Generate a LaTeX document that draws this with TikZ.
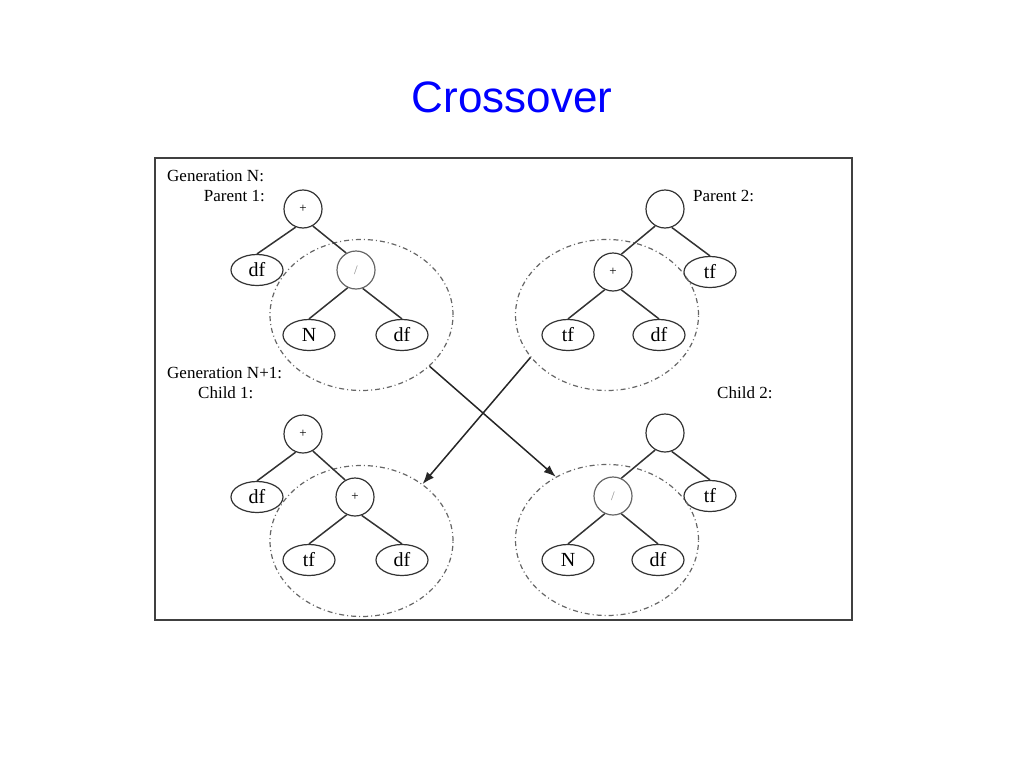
\documentclass[tikz,border=0pt]{standalone}
\usepackage{fontspec}
\setmainfont{Liberation Serif}
\newfontfamily\titlefont{Liberation Sans}
\usetikzlibrary{shapes.geometric,arrows.meta}

\begin{document}
\begin{tikzpicture}[x=1pt,y=-1pt,
    opnode/.style={circle,draw=black!80,line width=1.2pt,minimum size=38pt,inner sep=0pt,font=\fontsize{13}{13}\selectfont},
    leafnode/.style={ellipse,draw=black!80,line width=1.2pt,minimum width=52pt,minimum height=31pt,inner sep=0pt,font=\fontsize{20}{20}\selectfont},
    subtree/.style={ellipse,draw=black!60,line width=1.2pt,dash pattern=on 5pt off 3pt on 1pt off 3pt,minimum width=183pt,minimum height=151pt,inner sep=0pt},
    lbl/.style={font=\fontsize{17}{17}\selectfont,inner sep=0pt},
    branch/.style={draw=black!80,line width=1.5pt},
    swap/.style={-{Latex[length=12pt,width=9pt]},line width=1.5pt,black!85}]
  \useasboundingbox (0,0) rectangle (1024,768);
  \node[font=\titlefont\fontsize{44}{44}\selectfont,text=blue] (title) at (512,97) {Crossover};
  \draw[black!75,line width=1.6pt] (155,158) rectangle (852,620);
  % labels
  \node[lbl,anchor=west] (gen1) at (167,176) {Generation N:};
  \node[lbl,anchor=east] (par1) at (265,196) {Parent 1:};
  \node[lbl,anchor=west] (par2) at (693,196) {Parent 2:};
  \node[lbl,anchor=west] (gen2) at (167,373) {Generation N+1:};
  \node[lbl,anchor=west] (chi1) at (198,393) {Child 1:};
  \node[lbl,anchor=west] (chi2) at (717,393) {Child 2:};
  % parent 1
  \node[opnode] (p1r) at (303,209) {+};
  \node[leafnode] (p1a) at (257,270) {df};
  \node[opnode,draw=black!60,text=black!45] (p1b) at (356,270) {/};
  \node[leafnode] (p1c) at (309,335) {N};
  \node[leafnode] (p1d) at (402,335) {df};
  \node[subtree] (s1) at (361.5,315) {};
  \draw[branch] (p1r.248) -- (p1a.north);
  \draw[branch] (p1r.-60) -- (p1b.120);
  \draw[branch] (p1b.245) -- (p1c.north);
  \draw[branch] (p1b.-70) -- (p1d.north);
  % parent 2
  \node[opnode] (p2r) at (665,209) {};
  \node[opnode] (p2a) at (613,272) {+};
  \node[leafnode] (p2b) at (710,272) {tf};
  \node[leafnode] (p2c) at (568,335) {tf};
  \node[leafnode] (p2d) at (659,335) {df};
  \node[subtree] (s2) at (607,315) {};
  \draw[branch] (p2r.240) -- (p2a.65);
  \draw[branch] (p2r.-70) -- (p2b.north);
  \draw[branch] (p2a.245) -- (p2c.north);
  \draw[branch] (p2a.-65) -- (p2d.north);
  % child 1
  \node[opnode] (c1r) at (303,434) {+};
  \node[leafnode] (c1a) at (257,497) {df};
  \node[opnode] (c1b) at (355,497) {+};
  \node[leafnode] (c1c) at (309,560) {tf};
  \node[leafnode] (c1d) at (402,560) {df};
  \node[subtree] (s3) at (361.5,541) {};
  \draw[branch] (c1r.248) -- (c1a.north);
  \draw[branch] (c1r.-60) -- (c1b.120);
  \draw[branch] (c1b.245) -- (c1c.north);
  \draw[branch] (c1b.-70) -- (c1d.north);
  % child 2
  \node[opnode] (c2r) at (665,433) {};
  \node[opnode,draw=black!60,text=black!45] (c2a) at (613,496) {/};
  \node[leafnode] (c2b) at (710,496) {tf};
  \node[leafnode] (c2c) at (568,560) {N};
  \node[leafnode] (c2d) at (658,560) {df};
  \node[subtree] (s4) at (607,540) {};
  \draw[branch] (c2r.240) -- (c2a.65);
  \draw[branch] (c2r.-70) -- (c2b.north);
  \draw[branch] (c2a.245) -- (c2c.north);
  \draw[branch] (c2a.-65) -- (c2d.north);
  % crossover
  \draw[swap] (s1.-37) -- (s4.129);
  \draw[swap] (s2.209) -- (s3.43);
\end{tikzpicture}
\end{document}
